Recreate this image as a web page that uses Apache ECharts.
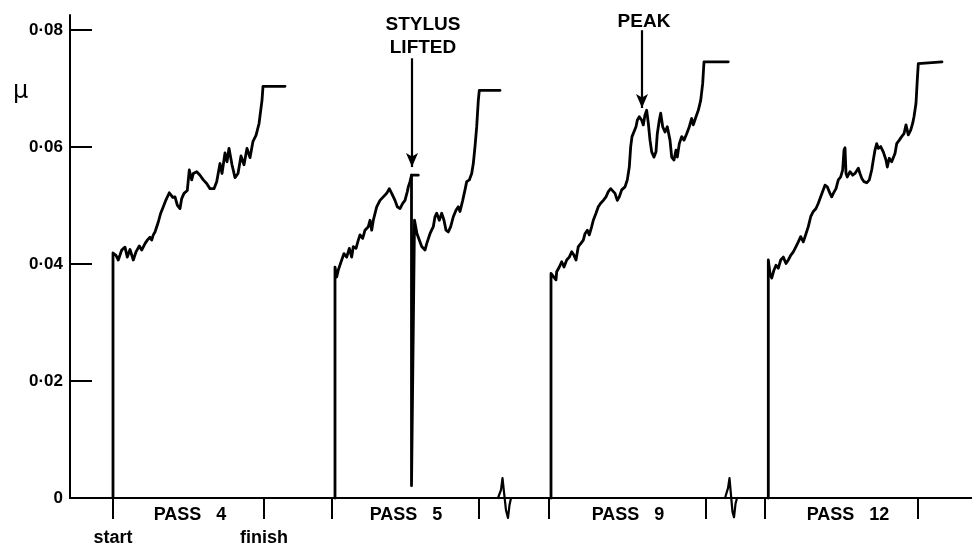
<!DOCTYPE html>
<html><head><meta charset="utf-8">
<script src="https://cdn.jsdelivr.net/npm/echarts@6/dist/echarts.min.js"></script>
<style>html,body{margin:0;padding:0;background:#fff}#c{width:972px;height:547px}</style>
</head><body><div id="c"></div>
<script>
// x: chart travel (arbitrary chart units), y: coefficient of friction mu
const yTicks = [0, 0.02, 0.04, 0.06, 0.08];
const xTicks = [43, 194, 262, 409, 479, 636, 695, 848];
const passLabelPos = [120, 336, 558, 778];
const passNames = ['PASS   4', 'PASS   5', 'PASS   9', 'PASS   12'];
const endLabelPos = [43, 194];
const endNames = ['start', 'finish'];

const pass4 = [[43,0],[43,0.0419],[46,0.0415],[48.3,0.0407],[51.7,0.0424],[55,0.0429],[57.3,0.0412],[60,0.0425],[63.3,0.0407],[66,0.0421],[69.3,0.0431],[71.7,0.0424],[75,0.0435],[77.3,0.0441],[80,0.0446],[81.7,0.0441],[83.3,0.0450],[85,0.0455],[88.3,0.0472],[90.7,0.0487],[93.3,0.0498],[96,0.0510],[99.3,0.0522],[102.7,0.0514],[105,0.0515],[107.3,0.0501],[110,0.0495],[111.7,0.0512],[114,0.0521],[117.3,0.0526],[119.3,0.0561],[121.7,0.0544],[123.3,0.0555],[126.7,0.0558],[130,0.0552],[133.3,0.0544],[136.7,0.0538],[140,0.0529],[144,0.0529],[146.7,0.0541],[150,0.0572],[152,0.0555],[155,0.0590],[157,0.0575],[159,0.0598],[162,0.0570],[165,0.0548],[168,0.0555],[171,0.0585],[174,0.0570],[177,0.0598],[180,0.0582],[183,0.0610],[186,0.0620],[189,0.0640],[192,0.0680],[193,0.0704],[215,0.0704]];

const pass5a = [[265,0],[265,0.0395],[266.7,0.0378],[268.3,0.0390],[271.7,0.0407],[274,0.0418],[276.7,0.0412],[279.3,0.0427],[281.7,0.0412],[283.3,0.0430],[286,0.0427],[288.3,0.0441],[290,0.0450],[292.7,0.0444],[295,0.0458],[298.3,0.0464],[300,0.0475],[301.7,0.0458],[303.3,0.0475],[306.7,0.0498],[310,0.0509],[313.3,0.0515],[316.7,0.0521],[319.3,0.0529],[321.7,0.0521],[323.3,0.0524],[325,0.0509],[327.3,0.0498],[330,0.0495],[332.7,0.0504],[335,0.0509],[337.3,0.0524],[338.3,0.0532],[340,0.0541],[341.5,0.0552],[348.3,0.0552]];

const pass5b = [[341.5,0.0552],[341.5,0.0021],[343.5,0.0021],[344.5,0.0475],[347,0.0452],[351.7,0.0430],[355,0.0424],[356.7,0.0435],[360,0.0452],[363.3,0.0464],[365,0.0481],[366.7,0.0487],[369.3,0.0475],[371.7,0.0487],[374,0.0475],[376,0.0458],[378.3,0.0455],[380.7,0.0464],[383.3,0.0481],[386,0.0492],[388.3,0.0498],[390,0.0490],[392.7,0.0509],[395,0.0527],[396.7,0.0541],[399.3,0.0544],[401.7,0.0555],[403.3,0.0572],[405,0.0601],[406.7,0.0635],[408.3,0.0680],[409.3,0.0697],[430,0.0697]];

const pass9 = [[481,0],[481,0.0384],[486,0.0373],[486.7,0.0387],[489.3,0.0395],[491.7,0.0404],[494,0.0395],[496.7,0.0407],[499.3,0.0412],[501.7,0.0421],[504,0.0415],[506,0.0407],[508.3,0.0430],[510.7,0.0435],[513.3,0.0441],[515,0.0452],[517.3,0.0458],[519.3,0.0450],[521.7,0.0464],[523.3,0.0475],[526,0.0487],[528.3,0.0498],[530.7,0.0504],[533.3,0.0509],[536,0.0515],[538.3,0.0524],[540.7,0.0529],[542.7,0.0527],[545,0.0521],[547.3,0.0509],[549.3,0.0515],[551.7,0.0527],[555,0.0532],[557.3,0.0544],[559.3,0.0566],[560.7,0.0601],[562,0.0618],[564,0.0621],[566,0.0635],[567.3,0.0646],[569.3,0.0652],[571.7,0.0646],[573.3,0.0638],[575,0.0655],[576.7,0.0663],[578.3,0.0641],[580,0.0612],[581.7,0.0592],[584,0.0583],[586,0.0592],[587.3,0.0623],[589.3,0.0646],[590.7,0.0658],[592.7,0.0635],[595,0.0626],[597.3,0.0635],[600,0.0612],[601.7,0.0583],[604,0.0578],[606,0.0595],[607.3,0.0583],[609.3,0.0606],[611.7,0.0618],[614,0.0612],[616.7,0.0623],[619.3,0.0635],[621.7,0.0649],[623.3,0.0638],[626,0.0652],[628.3,0.0663],[630.7,0.0680],[632.7,0.0709],[634,0.0746],[658.3,0.0746]];

const pass12 = [[698.3,0],[698.3,0.0407],[700,0.0384],[701.7,0.0376],[704,0.0390],[706,0.0398],[708.3,0.0393],[710.7,0.0407],[713.3,0.0412],[716,0.0401],[718.3,0.0407],[720.7,0.0415],[723.3,0.0421],[726,0.0430],[728.3,0.0438],[730.7,0.0447],[733.3,0.0438],[736,0.0452],[738.3,0.0464],[740.7,0.0481],[743.3,0.0490],[746,0.0495],[748.3,0.0504],[750.7,0.0515],[753.3,0.0527],[755,0.0535],[757.3,0.0532],[760,0.0521],[761.7,0.0515],[763.3,0.0521],[766,0.0529],[768.3,0.0544],[770.7,0.0549],[772.7,0.0561],[774,0.0595],[775,0.0599],[776,0.0555],[777.3,0.0549],[780,0.0558],[782.7,0.0552],[785,0.0555],[786.7,0.0558],[788.3,0.0564],[790,0.0555],[791.7,0.0547],[794,0.0541],[796.7,0.0539],[799.3,0.0544],[801.7,0.0561],[803.3,0.0578],[805,0.0595],[806.7,0.0606],[808.3,0.0598],[810.7,0.0601],[813.3,0.0592],[816,0.0578],[817.3,0.0566],[819.3,0.0581],[821.7,0.0575],[823.3,0.0578],[825,0.0589],[826.7,0.0606],[829.3,0.0612],[831.7,0.0618],[834,0.0623],[836,0.0638],[838.3,0.0621],[840.7,0.0629],[842.7,0.0641],[844,0.0652],[846,0.0675],[847.3,0.0715],[848.3,0.0743],[850,0.0746],[872,0.0746]];

const wiggleA = [[428,0],[431,0.0014],[432.5,0.0034],[434,0.0010],[436,-0.0021],[438,-0.0034],[439.5,-0.0012],[441,0]];
const wiggleB = [[655,0],[658,0.0017],[659.5,0.0034],[661,0.0005],[662.5,-0.0024],[664,-0.0033],[665.5,-0.0010],[667,0]];

// annotations (data coords)
const stylusText = [353, 0.0790];
const stylusArrow = [[342, 0.0752], [342, 0.0566]];
const peakText = [574, 0.0814];
const peakArrow = [[572, 0.0800], [572, 0.0667]];

const FONT = '"Liberation Sans", Arial, sans-serif';
const chart = echarts.init(document.getElementById('c'), null, {renderer: 'canvas'});

function trace(data, w) {
  return {
    type: 'line', data: data, showSymbol: false, symbol: 'none', clip: false,
    lineStyle: {color: '#000', width: w || 2.8, join: 'round', cap: 'round'},
    silent: true, animation: false, z: 3
  };
}

const series = [
  trace(pass4), trace(pass5a), trace(pass5b), trace(pass9), trace(pass12),
  trace(wiggleA, 2.2), trace(wiggleB, 2.2)
];

series.push({
  type: 'line', data: [], silent: true, animation: false,
  markLine: {
    silent: true, animation: false,
    lineStyle: {color: '#000', width: 2.2, type: 'solid'},
    label: {show: false},
    data: [
      [{coord: stylusArrow[0], symbol: 'none'}, {coord: stylusArrow[1], symbol: 'arrow', symbolSize: [9, 14]}],
      [{coord: peakArrow[0], symbol: 'none'}, {coord: peakArrow[1], symbol: 'arrow', symbolSize: [9, 14]}]
    ]
  },
  markPoint: {
    silent: true, animation: false, symbol: 'circle', symbolSize: 0,
    label: {show: true, position: 'inside', color: '#000', fontFamily: FONT, fontWeight: 'bold', fontSize: 19, lineHeight: 23, align: 'center'},
    data: [
      {coord: stylusText, value: 'STYLUS\nLIFTED', label: {formatter: 'STYLUS\nLIFTED'}},
      {coord: peakText, value: 'PEAK', label: {formatter: 'PEAK'}}
    ]
  }
});

const option = {
  animation: false,
  backgroundColor: '#fff',
  grid: {left: 70, right: 0, top: 15, bottom: 49, containLabel: false},
  xAxis: [{
    type: 'value', min: 0, max: 902, position: 'bottom',
    axisLine: {show: true, onZero: false, lineStyle: {color: '#000', width: 2}},
    axisTick: {show: true, customValues: xTicks, length: 21, inside: false, lineStyle: {color: '#000', width: 2}},
    axisLabel: {show: true, customValues: passLabelPos, margin: 8, color: '#000', fontFamily: FONT, fontWeight: 'bold', fontSize: 18,
      formatter: v => passNames[passLabelPos.indexOf(v)] || ''},
    splitLine: {show: false}
  }, {
    type: 'value', min: 0, max: 902, position: 'bottom',
    axisLine: {show: false}, axisTick: {show: false},
    axisLabel: {show: true, customValues: endLabelPos, margin: 31, color: '#000', fontFamily: FONT, fontWeight: 'bold', fontSize: 18,
      formatter: v => endNames[endLabelPos.indexOf(v)] || ''},
    splitLine: {show: false}
  }],
  yAxis: {
    type: 'value', min: 0, max: 0.0826,
    axisLine: {show: true, lineStyle: {color: '#000', width: 2}},
    axisTick: {show: true, customValues: yTicks, inside: true, length: 22, lineStyle: {color: '#000', width: 2}},
    axisLabel: {show: true, customValues: yTicks, margin: 7, color: '#000', fontFamily: FONT, fontWeight: 'bold', fontSize: 17,
      formatter: v => v === 0 ? '0' : v.toFixed(2).replace('.', '·')},
    splitLine: {show: false}
  },
  graphic: [{
    type: 'text', left: 13, top: 80,
    style: {text: 'μ', font: '24px "DejaVu Sans", sans-serif', fill: '#000'}
  }],
  series: series
};
chart.setOption(option);
</script></body></html>
